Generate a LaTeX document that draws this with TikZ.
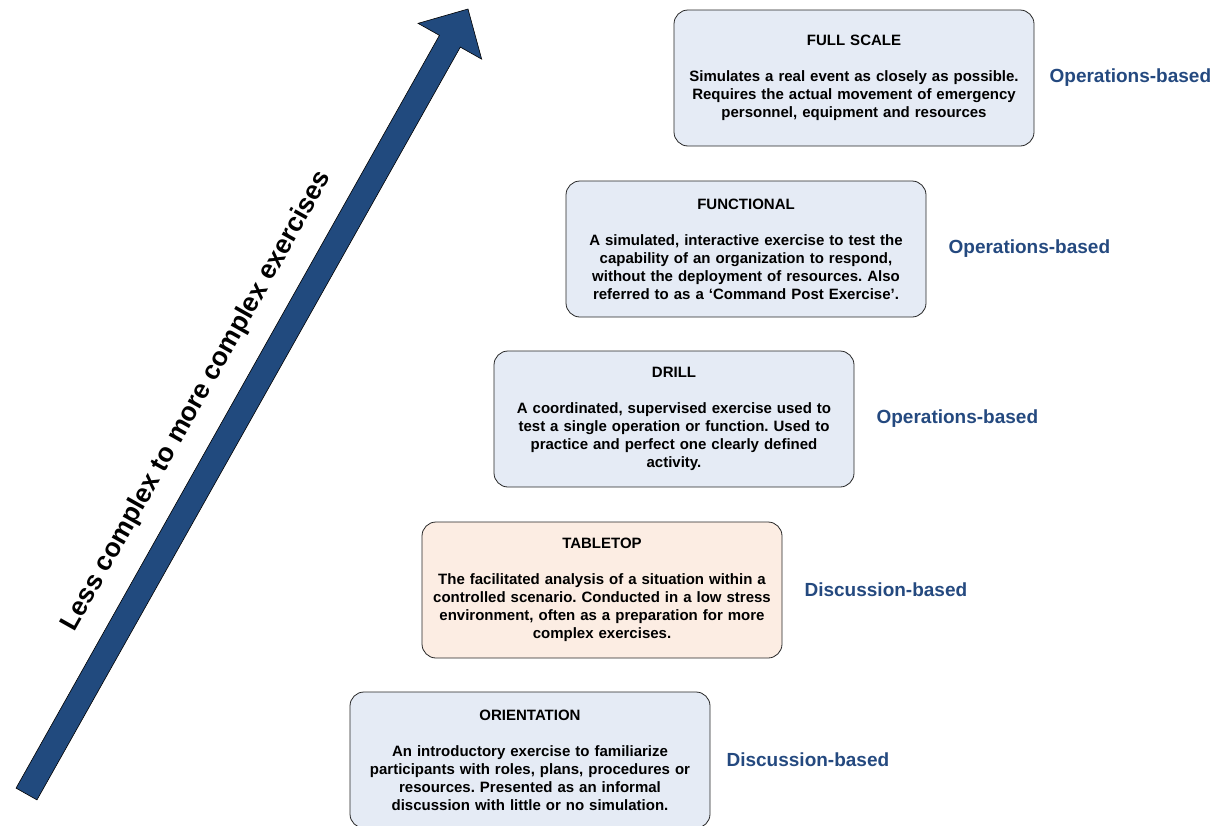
\documentclass[tikz,border=0pt]{standalone}
\usepackage{fontspec}
\setmainfont{Liberation Sans}
\usetikzlibrary{positioning,calc}
\definecolor{rampblue}{HTML}{214A7E}
\definecolor{kindblue}{HTML}{24497F}
\definecolor{stagefill}{HTML}{E5EBF5}
\definecolor{tablefill}{HTML}{FCEDE3}
\frenchspacing

\begin{document}
\begin{tikzpicture}[
x=1pt, y=-1pt,
node distance=0pt,
 Stage/.style = {rectangle, draw=black!85, line width=0.8pt,% boxes of the exercise steps
                 rounded corners=14pt, fill=stagefill,
                 minimum width=360pt, minimum height=136pt,
                 inner sep=0pt, text width=350pt, align=center,
                 font=\fontsize{15}{18}\selectfont\bfseries},
  Kind/.style = {text=kindblue, inner sep=0pt,
                 font=\fontsize{19}{22}\selectfont\bfseries},
  Ramp/.style = {draw=black, line width=0.6pt, fill=rampblue},
                        ]
\useasboundingbox (0,0) rectangle (1216,825);
% the big arrow
\coordinate (tail) at (26.5,794);
\coordinate (tip)  at (468,9);
\coordinate (neck) at ($(tip)!37pt!(tail)$);
\draw[Ramp] ($(tail)!12pt!90:(tip)$) -- ($(neck)!12pt!90:(tip)$) -- ($(neck)!36.5pt!90:(tip)$)
   -- (tip) -- ($(neck)!36.5pt!-90:(tip)$) -- ($(neck)!12pt!-90:(tip)$) -- ($(tail)!12pt!-90:(tip)$) -- cycle;
\coordinate (mid) at ($(tail)!426pt!(tip)$);
\node[rotate=60.64, font=\fontsize{26.5}{30}\selectfont\bfseries] (ramp-text)
   at ($(mid)!44pt!90:(tip)$) {Less complex to more complex exercises};
% steps
\foreach \n/\x/\y/\f/\t/\d/\k/\g in {
 1/530/760/stagefill/ORIENTATION/{An introductory exercise to familiarize\\participants with roles, plans, procedures or\\resources. Presented as an informal\\discussion with little or no simulation.}/Discussion-based/16,
 2/602/590/tablefill/TABLETOP/{The facilitated analysis of a situation within a\\controlled scenario. Conducted in a low stress\\environment, often as a preparation for more\\complex exercises.}/Discussion-based/22,
 3/674/419/stagefill/DRILL/{A coordinated, supervised exercise used to\\test a single operation or function. Used to\\practice and perfect one clearly defined\\activity.}/Operations-based/22,
 4/746/249/stagefill/FUNCTIONAL/{A simulated, interactive exercise to test the\\capability of an organization to respond,\\without the deployment of resources. Also\\referred to as a ‘Command Post Exercise’.}/Operations-based/22,
 5/854/78/stagefill/FULL SCALE/{Simulates a real event as closely as possible.\\Requires the actual movement of emergency\\personnel, equipment and resources}/Operations-based/15}
{
  \node[Stage, fill=\f] (S-\n) at (\x,\y) {\t\\[18pt]\d};
  \node[Kind, right=\g pt of S-\n] (K-\n) {\k};
}
\end{tikzpicture}
\end{document}
